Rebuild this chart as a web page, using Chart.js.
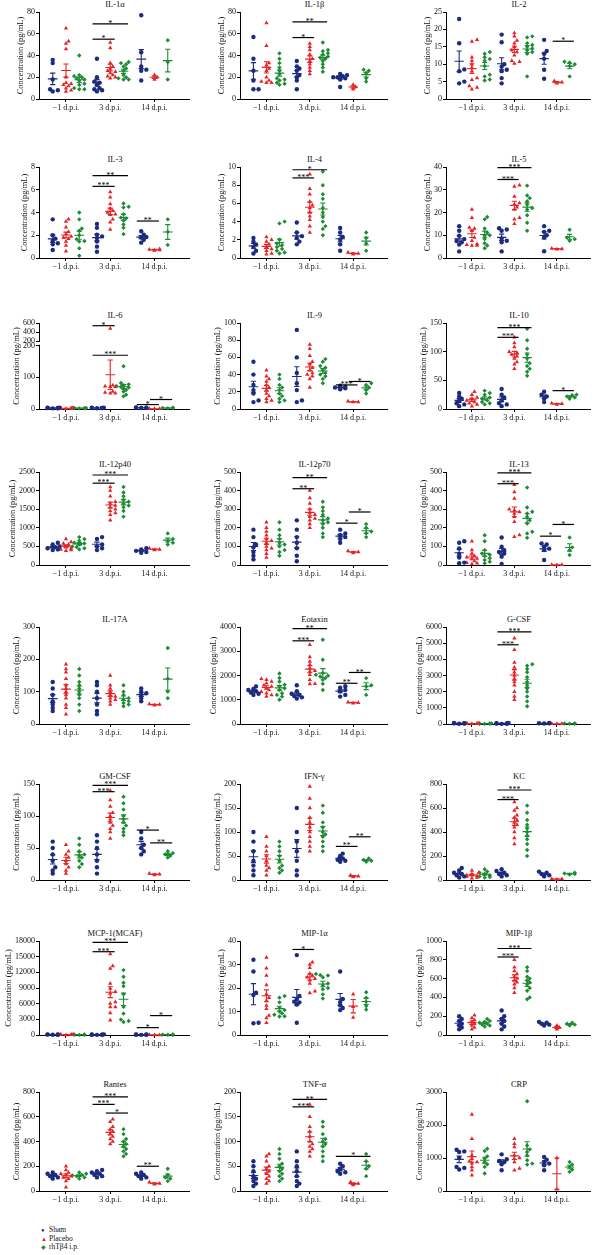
<!DOCTYPE html>
<html>
<head>
<meta charset="utf-8">
<script src="https://cdn.jsdelivr.net/npm/chart.js@4.4.0/dist/chart.umd.min.js"></script>
<style>
  body { margin: 0; background: #fff; width: 605px; height: 1255px; position: relative; overflow: hidden;
         font-family: "Liberation Serif", "Times New Roman", serif; }
  canvas { position: absolute; }
  .ttl { position: absolute; width: 120px; font-size: 8.5px; line-height: 10px; text-align: center; white-space: nowrap; color: #111; }
  .legend { position: absolute; left: 41px; top: 1226px; font-size: 7.5px; line-height: 8.6px; color: #111; }
  .legend span { display: inline-block; width: 8px; font-size: 6px; }
</style>
</head>
<body>
<script>
// ---- data ----
const panelTitles = ['IL-1α', 'IL-1β', 'IL-2', 'IL-3', 'IL-4', 'IL-5', 'IL-6', 'IL-9', 'IL-10',
  'IL-12p40', 'IL-12p70', 'IL-13', 'IL-17A', 'Eotaxin', 'G-CSF', 'GM-CSF', 'IFN-γ', 'KC',
  'MCP-1(MCAF)', 'MIP-1α', 'MIP-1β', 'Rantes', 'TNF-α', 'CRP'];
const yMax = [80, 80, 25, 8, 10, 40, 600, 100, 150, 2500, 500, 500, 300, 4000, 6000, 150, 200, 800, 18000, 40, 1000, 800, 200, 3000];
const yStep = [20, 20, 5, 2, 2, 10, 200, 20, 50, 500, 100, 100, 100, 1000, 1000, 50, 50, 200, 3000, 10, 200, 200, 50, 1000];
const groupLabels = ['\u22121 d.p.i.', '3 d.p.i.', '14 d.p.i.'];
const seriesNames = ['Sham', 'Placebo', 'rhTβ4 i.p.'];

// values per panel: [-1 d.p.i., 3 d.p.i., 14 d.p.i.]
const shamValues = [
  [[36,33,18,9,8,7],[37,20,16,15,13,10,9,8,7],[77,43,30,27,26,17]],
  [[57,37,26,17,9,9],[35,30,28,26,22,20,17,9],[23,22,21,20,20,19,18,11]],
  [[23,16,8.5,8,5,4.5],[18.5,16.3,10,9.3,8.4,8,6,4.5],[17,13.8,13,11.6,8.4,5.8]],
  [[3.4,2.0,1.7,1.5,1.3,1.2,0.7],[3.0,2.65,2.05,1.9,1.75,1.45,1.0,0.55],[2.35,2.05,1.85,1.8,1.6,1.35]],
  [[2.2,1.8,1.5,1.2,0.8,0.5],[3.9,2.8,2.4,2.2,1.8,1.5],[3.3,2.8,2.3,2,1.5,0.8]],
  [[14,12,9.8,8.3,7.5,6.9,5.9,2.9],[13.1,12.5,12,8.6,7.6,6.9,2.9],[14,12,11.5,10,9,3]],
  [[4,3,2.5,2,3,4],[4,3,3,2.5,3,4],[5,4,3,3,4]],
  [[55,40,28,22,18,10,8],[92,60,42,30,22,10,8],[27,26,25,24,23]],
  [[28,22,18,14,10,8,5],[35,25,20,15,10,8,5],[30,25,22,18,12]],
  [[600,550,500,480,450,420,400],[750,700,550,500,450,400],[450,420,380,350,330]],
  [[190,150,110,95,70,50,30],[240,190,150,120,90,50,20],[190,170,160,150,140,120]],
  [[128,120,89,60,40,13,10],[148,98,80,70,62,45,5],[116,110,98,88,80,27]],
  [[130,110,90,70,60,50,40],[130,120,100,80,60,40,30],[110,100,95,90,80,70]],
  [[1550,1450,1400,1350,1300,1250,1200],[1600,1350,1250,1200,1150,1100,1050],[1560,1500,1400,1350,1200,1130]],
  [[60,50,40,30,20],[60,50,40,30,20,10],[60,50,40,30]],
  [[60,50,40,30,20,15,10],[70,60,50,40,30,20,10],[75,65,55,50,45,40]],
  [[100,80,60,40,30,20,10],[150,100,80,60,40,20,10],[55,50,45,42,40,38]],
  [[100,80,60,50,40,30,20],[90,75,60,50,40,30],[70,60,50,40,30]],
  [[120,100,80,60,40],[120,100,80,60,40,30],[110,90,70,50,30]],
  [[32,27,18,17,5.2,5],[34,16.6,15.3,14.2,13.9,13,5.2],[27,15.3,14,12.6,11.5,10.6]],
  [[200,170,150,120,100,80,60],[260,200,170,150,120,90,60],[140,130,120,110,100]],
  [[150,140,130,120,110,100],[170,160,150,140,130,120,110],[150,140,130,120,110,100]],
  [[60,50,40,30,25,20,15,10],[80,60,50,40,30,20,15,10],[55,50,45,40,38,35]],
  [[1250,1200,1180,1000,730,700,650],[1110,960,910,880,810,630],[1030,950,880,830,780,630]]
];
const placeboValues = [
  [[65,53,51,46,20,15,14,13,12,10,8,7],[52,47,33,30,28,26,25,24,22,21,20,19],[22,20,18]],
  [[70,49,33,31,28,26,20,17,16,15,15],[51,48,45,41,37,35,32,29,26,23],[13,11,9]],
  [[17,16.5,12,11,10,9,8,6,5.5,3.7,3.3,2.8],[19,18,16.8,16,15,14,13.5,12.6,11,10.7,10.2],[5.2,4.8,4.5]],
  [[3.4,3.2,2.7,2.3,2.1,1.9,1.8,1.7,1.45,1.1,0.6],[5.8,5.35,4.75,4.35,4.15,4.0,3.85,3.8,3.4,3.15,2.5],[0.8,0.75,0.7,0.65]],
  [[2.3,2,1.8,1.5,1.2,1,0.8,0.5,0.4],[9.2,7.6,7,6.2,5.8,5.5,5,4.6,4.2,3.5,2.8],[0.6,0.5,0.4]],
  [[21.3,17.7,13.4,13,12,9,7.6,6.2,5.8,5.5,5.5],[32,31.4,27,24.2,23.5,22.3,21.3,17.7,17,15.1],[4.2,4,3.8]],
  [[2,3,1.5,2.5,2,3,1],[480,72,70,55,52,50,50,75,70],[1,1,1]],
  [[45,38,35,32,28,25,22,18,15,12,10,8],[75,70,62,55,52,48,45,42,40,38,35,25],[9,8,8]],
  [[30,25,20,18,15,12,10,8,5],[125,115,108,100,98,95,92,88,82,78,70],[10,9,8]],
  [[700,620,580,550,500,480,450,420,400,380],[2100,2000,1850,1700,1650,1600,1550,1500,1450,1400,1350,1200],[450,420,400]],
  [[230,200,180,160,140,130,120,100,90,80,60,40],[400,360,330,300,280,270,260,250,240,220,200],[75,70,65]],
  [[128,80,62,48,41,35,32,21,12,9,5],[432,393,357,300,295,285,277,259,232,161,152],[2,1,0]],
  [[185,170,160,140,120,110,100,90,80,60,50,30],[150,120,110,100,90,85,80,75,70,60],[62,60,58]],
  [[1870,1820,1750,1680,1600,1545,1480,1400,1330,1270,1200,1130],[3270,2760,2580,2440,2300,2200,2165,2030,1820,1660,1650],[900,880,860]],
  [[50,40,30,20,10,10],[5300,4600,3800,3500,3200,3000,2800,2600,2400,2000,1700,1500],[20,15,10]],
  [[55,45,40,35,30,25,20,15,10],[140,125,115,105,100,95,90,85,80,75,65],[10,9,8]],
  [[90,70,60,50,40,30,25,20,10],[195,170,150,130,120,110,100,90,80,70,60],[10,8,6]],
  [[80,60,50,40,35,30,20,15],[650,600,580,540,520,500,480,460,440,400,350,300],[10,8,5]],
  [[100,80,60,40,30,20],[15500,13200,12750,9870,8900,8260,7940,6340,6020,5380,5380,4230,2820],[30,20,10]],
  [[33,28.4,25.3,21.3,17.3,15.9,14.6,12.6,11.2,8.3,7.2,5.2],[31,30,28.6,26.2,25.3,24.6,23.9,23.3,21.9,18.6,17.9],[17.3,12,7.5]],
  [[210,180,160,140,120,100,80,60],[800,720,680,650,620,600,580,560,540,500,450],[100,80,60]],
  [[200,170,150,140,130,120,110,100,80,30],[580,560,520,500,480,460,440,420,400,380],[70,60,55]],
  [[75,70,60,50,45,40,35,30,25,20,15],[175,150,130,120,110,100,95,90,85,80,70],[18,15,12]],
  [[2320,1580,1080,980,900,880,830,730,630,480],[1580,1430,1330,1080,1000,980,880,680,630],[1000,50]]
];
const rhtValues = [
  [[40,22,21,20,19,18,17,14,13,10,9,9],[34,33,32,30,28,26,22,20,19,18,18],[54,34,18]],
  [[42,37,33,29,26,23,19,17,15,13,14,18],[52,45,44,42,41,39,38,37,35,32,29,25],[27,26,24,19,16]],
  [[13.5,13,12,11.5,11,9.5,7,6.5,5.6,5.3],[18,17.7,16,15.5,15,14.5,14,13.5,13,6.5],[10.7,10.5,10,9.5,6.5]],
  [[4.0,3.4,2.6,2.4,2.0,1.65,1.5,1.45,0.85,0.2],[4.8,4.5,4.45,3.85,3.55,3.5,3.3,2.95,2.65,2.1],[3.4,2.3,1.15]],
  [[4,3.8,2,1.6,1.4,1.2,1,0.8,0.6,0.5],[9.5,8,7,6.5,5.5,5,4.5,4,3.5,2.5,3.2],[2.8,2.2,1.6,0.8]],
  [[18,17,13,11.2,10,9.8,8.3,6.5,5.5,4.3],[31.8,27.5,26.3,25,23.5,22,21.3,18.8,15.5,12],[12.4,9,8.3,7.6]],
  [[3,2.5,2,3.5,2,3,2.5],[135,82,78,75,72,70,68,65,60,55,45,40],[4,3,3,2]],
  [[40,35,28,25,22,18,15,12,10,8],[58,55,50,48,45,42,40,38,35,30],[30,28,25,22,18]],
  [[32,28,25,20,18,15,12,10,8],[140,120,105,95,88,80,75,70,65,58],[25,24,22,20,18]],
  [[750,700,650,600,580,550,500,480,450,420],[2100,1950,1850,1750,1700,1650,1600,1550,1450,1300],[850,700,650,600,550]],
  [[230,190,160,140,120,110,100,80,70,50],[340,310,290,270,250,240,230,220,200,170,150],[220,200,180,170,150]],
  [[160,128,80,62,55,48,36,27,18,9],[416,309,286,277,259,240,223,179,170,146],[148,95,80,54]],
  [[170,150,130,120,110,100,90,80,60,40],[120,100,90,80,75,70,65,60,55],[235,140,100,80]],
  [[2080,1900,1750,1620,1550,1475,1400,1270,1200,1130,1000],[3475,2650,2100,2030,1990,1960,1900,1820,1655,1400],[1890,1600,1545,1200]],
  [[40,30,30,20,20,10],[3700,3600,3400,3200,2900,2600,2400,2200,2000,1700,1400,1100],[40,30,20,20]],
  [[65,55,45,40,38,35,30,25,20],[130,120,110,100,95,90,85,80,75,70],[45,42,40,38,35]],
  [[80,70,60,50,40,30,25,20,15],[155,140,120,110,100,95,90,80,70,60],[45,42,40,38]],
  [[90,70,60,50,40,30,25,20],[620,560,500,460,430,400,370,340,300,250,200],[60,55,50,45]],
  [[110,90,70,50,30],[12430,11150,10000,9350,7800,5380,4100,2950,2690,2500],[100,80,60,40]],
  [[16.6,15.9,13.9,11.5,10.6,10,9.2,8.6,8,7.9],[26,25.5,25.3,24.6,21.9,21.3,20,19.5,17.3,15.5],[18.2,15.9,14.2,12.3,10.8]],
  [[170,150,140,130,120,110,100,90],[720,680,620,600,580,560,540,500,470,400,380],[130,120,110,100]],
  [[150,140,130,125,120,110,100],[500,460,420,400,380,360,340,320,300,280],[180,130,110,100,80]],
  [[85,75,65,55,50,45,40,35,30,25,20],[140,130,115,105,100,95,90,80,70,60],[75,60,50,45,30]],
  [[1280,1210,1050,980,880,810,730,530],[2720,1380,1260,1180,1080,930,830,800],[880,800,730,650,580]]
];

// significance bars: [group, from series, to series, y value, label]
const significance = [
  [[1,0,1,55,'*'],[1,0,2,69,'*']],
  [[1,0,1,56.5,'*'],[1,0,2,71,'**']],
  [[2,1,2,16.6,'*']],
  [[1,0,1,6.3,'***'],[1,0,2,7.25,'**'],[2,0,1,3.25,'**']],
  [[1,0,1,8.8,'***'],[1,0,2,9.7,'*']],
  [[1,0,1,34.5,'***'],[1,0,2,39.7,'***']],
  [[1,0,1,540,'*'],[1,0,2,170,'***'],[2,0,1,14,'*'],[2,1,2,30,'*']],
  [[2,0,1,28,'***'],[2,1,2,32,'*']],
  [[1,0,1,125,'***'],[1,0,2,142,'***'],[2,1,2,32,'*']],
  [[1,0,1,2200,'***'],[1,0,2,2420,'***']],
  [[1,0,1,410,'**'],[1,0,2,470,'**'],[2,0,1,225,'*'],[2,1,2,285,'*']],
  [[1,0,1,437,'***'],[1,0,2,495,'***'],[2,0,1,155,'*'],[2,1,2,218,'*']],
  [],
  [[1,0,1,3430,'***'],[1,0,2,3930,'**'],[2,0,1,1680,'**'],[2,1,2,2125,'**']],
  [[1,0,1,4900,'***'],[1,0,2,5700,'***']],
  [[1,0,1,138,'***'],[1,0,2,148,'***'],[2,0,1,78,'*'],[2,1,2,58,'**']],
  [[2,0,1,70,'**'],[2,1,2,90,'**']],
  [[1,0,1,670,'***'],[1,0,2,750,'***']],
  [[1,0,1,15950,'***'],[1,0,2,17745,'***'],[2,0,1,1410,'*'],[2,1,2,3715,'*']],
  [[1,0,1,36.4,'*']],
  [[1,0,1,830,'***'],[1,0,2,920,'***']],
  [[1,0,1,700,'***'],[1,0,2,760,'***'],[1,1,2,630,'*'],[2,0,1,200,'**']],
  [[1,0,1,170,'***'],[1,0,2,185,'**'],[2,0,2,70,'*']],
  []
];

// ---- layout / style ----
const COLORS = ['#1c2b7f', '#e52428', '#1d8b34'];
const STYLES = ['circle', 'triangle', 'rectRot'];
const colLeft = [0, 200, 400];
const axisX = [39, 240, 446];
const rightX = [191, 389, 592];
const plotTop = [12, 167, 323, 472, 627, 784, 941, 1092];
const zeroY = [99, 258, 409, 565, 724, 880, 1035, 1191];
const X_MIN = 0.39, X_MAX = 3.78, SUB_OFF = 0.3;
const FONT = '"Liberation Serif", "Times New Roman", serif';
const IL6 = 6, IL6_LOW_MAX = 215;

function stats(v) {
  const n = v.length;
  const m = v.reduce((a, b) => a + b, 0) / n;
  const sd = Math.sqrt(v.reduce((a, b) => a + (b - m) * (b - m), 0) / (n - 1));
  return { mean: m, sem: sd / Math.sqrt(n) };
}

// beeswarm-like horizontal spread so points don't sit on top of each other
function swarmOffsets(vals, scaleMax, plotH, pxPerUnit) {
  const order = vals.map((v, k) => k).sort((a, b) => vals[a] - vals[b]);
  const steps = [0, 2.6, -2.6, 5.2, -5.2, 7, -7];
  const placed = [];
  const out = new Array(vals.length).fill(0);
  order.forEach((k, n) => {
    const py = Math.min(vals[k], scaleMax) / scaleMax * plotH;
    let pick = steps[n % steps.length];
    for (const st of steps) {
      if (placed.every(p => Math.hypot(p.x - st, p.y - py) >= 3.2)) { pick = st; break; }
    }
    placed.push({ x: pick, y: py });
    out[k] = pick / pxPerUnit;
  });
  return out;
}

function center(g, s) { return g + 1 + (s - 1) * SUB_OFF; }

function yPix(chart, v) {
  const sc = chart.scales;
  if (sc.y2 && v > 200) return sc.y2.getPixelForValue(v);
  return sc.y.getPixelForValue(v);
}

function makeOverlay(i, series) {
  return {
    id: 'overlay' + i,
    afterDatasetsDraw(chart) {
      const ctx = chart.ctx;
      const xs = chart.scales.x;
      ctx.save();
      // mean +/- SEM
      series.forEach((groups, s) => {
        groups.forEach((vals, g) => {
          const st = stats(vals);
          const c = center(g, s);
          const ym = yPix(chart, st.mean);
          const yt = yPix(chart, st.mean + st.sem);
          const yb = yPix(chart, Math.max(0, st.mean - st.sem));
          ctx.strokeStyle = COLORS[s];
          ctx.lineWidth = 1.1;
          ctx.beginPath();
          ctx.moveTo(xs.getPixelForValue(c - 0.11), ym);
          ctx.lineTo(xs.getPixelForValue(c + 0.11), ym);
          ctx.moveTo(xs.getPixelForValue(c), yt);
          ctx.lineTo(xs.getPixelForValue(c), yb);
          ctx.moveTo(xs.getPixelForValue(c - 0.06), yt);
          ctx.lineTo(xs.getPixelForValue(c + 0.06), yt);
          ctx.moveTo(xs.getPixelForValue(c - 0.06), yb);
          ctx.lineTo(xs.getPixelForValue(c + 0.06), yb);
          ctx.stroke();
        });
      });
      // significance bars
      ctx.strokeStyle = '#000';
      ctx.fillStyle = '#000';
      ctx.lineWidth = 1.2;
      ctx.font = '8px ' + FONT;
      ctx.textAlign = 'center';
      ctx.textBaseline = 'bottom';
      significance[i].forEach(([g, a, b, v, label]) => {
        const x1 = xs.getPixelForValue(center(g, a) - 0.1);
        const x2 = xs.getPixelForValue(center(g, b) + 0.1);
        const y = yPix(chart, v);
        ctx.beginPath();
        ctx.moveTo(x1, y);
        ctx.lineTo(x2, y);
        ctx.stroke();
        ctx.fillText(label, (x1 + x2) / 2, y + 4);
      });
      ctx.restore();
    },
    afterDraw(chart) {
      const ctx = chart.ctx;
      const area = chart.chartArea;
      ctx.save();
      // y axis title next to the tick labels
      ctx.font = '8px ' + FONT;
      let widest = 0;
      ['y', 'y2'].forEach(id => {
        const sc = chart.scales[id];
        if (!sc) return;
        sc.ticks.forEach(t => { widest = Math.max(widest, ctx.measureText(String(t.value)).width); });
      });
      const tx = area.left - 4 - widest - 6.5;
      ctx.translate(tx, (area.top + area.bottom) / 2);
      ctx.rotate(-Math.PI / 2);
      ctx.font = '8.4px ' + FONT;
      ctx.fillStyle = '#111';
      ctx.textAlign = 'center';
      ctx.textBaseline = 'middle';
      ctx.fillText('Concentration (pg/mL)', 0, 0);
      ctx.restore();
      // broken axis gap for IL-6
      if (chart.scales.y2) {
        const top = chart.scales.y2.bottom + 1;
        const bot = chart.scales.y.getPixelForValue(200) - 1;
        ctx.save();
        ctx.fillStyle = '#fff';
        ctx.fillRect(area.left - 2, top, 3, bot - top);
        ctx.restore();
      }
    }
  };
}

function tickList(max, step) {
  const out = [];
  for (let v = 0; v <= max + 1e-9; v += step) out.push({ value: v });
  return out;
}

function buildPanel(i) {
  const row = Math.floor(i / 3), col = i % 3;
  const left = colLeft[col];
  const top = plotTop[row] - 8;
  const width = rightX[col] - left + 2;
  const height = zeroY[row] - plotTop[row] + 8 + 20;
  const plotH = zeroY[row] - plotTop[row];
  const pxPerUnit = (rightX[col] - axisX[col]) / (X_MAX - X_MIN);
  const yAxisW = axisX[col] - left;

  const title = document.createElement('div');
  title.className = 'ttl';
  title.textContent = panelTitles[i];
  title.style.left = ((axisX[col] + rightX[col]) / 2 - 60) + 'px';
  title.style.top = (plotTop[row] - 13) + 'px';
  document.body.appendChild(title);

  const canvas = document.createElement('canvas');
  canvas.width = width; canvas.height = height;
  canvas.style.left = left + 'px'; canvas.style.top = top + 'px';
  canvas.style.width = width + 'px'; canvas.style.height = height + 'px';
  document.body.appendChild(canvas);

  const series = [shamValues[i], placeboValues[i], rhtValues[i]];
  const scaleMax = i === IL6 ? IL6_LOW_MAX : yMax[i];
  const datasets = [];
  const upper = [[], [], []];
  series.forEach((groups, s) => {
    const pts = [];
    groups.forEach((vals, g) => {
      const offs = swarmOffsets(vals, scaleMax, plotH, pxPerUnit);
      vals.forEach((v, k) => {
        const p = { x: center(g, s) + offs[k], y: v };
        if (i === IL6 && v > 200) upper[s].push(p); else pts.push(p);
      });
    });
    datasets.push({
      label: seriesNames[s], data: pts, pointStyle: STYLES[s],
      pointRadius: s === 1 ? 2.5 : 2.2, backgroundColor: COLORS[s], borderColor: COLORS[s],
      borderWidth: 0, clip: false
    });
  });
  if (i === IL6) {
    upper.forEach((pts, s) => {
      if (!pts.length) return;
      datasets.push({
        label: seriesNames[s], data: pts, yAxisID: 'y2', pointStyle: STYLES[s],
        pointRadius: 2.5, backgroundColor: COLORS[s], borderWidth: 0, clip: false
      });
    });
  }

  const tickFont = { family: FONT, size: 8 };
  const yCommon = {
    type: 'linear', position: 'left',
    ticks: { font: tickFont, color: '#111', padding: 1, autoSkip: false, callback: v => String(v) },
    grid: { drawOnChartArea: false, tickLength: 3, color: '#000', lineWidth: 1 },
    border: { color: '#000', width: 1 },
    afterFit: sc => { sc.width = yAxisW; }
  };
  const scales = {
    x: {
      type: 'linear', min: X_MIN, max: X_MAX,
      afterBuildTicks: sc => { sc.ticks = [1, 2, 3].map(v => ({ value: v })); },
      ticks: { font: tickFont, color: '#111', padding: 1, maxRotation: 0, autoSkip: false,
               callback: (v, idx) => groupLabels[idx] },
      grid: { drawOnChartArea: false, tickLength: 3, color: '#000', lineWidth: 1 },
      border: { color: '#000', width: 1 },
      afterFit: sc => { sc.height = 20; }
    }
  };
  if (i === IL6) {
    scales.y = Object.assign({}, yCommon, {
      min: 0, max: IL6_LOW_MAX, stack: 'il6', stackWeight: 68,
      afterBuildTicks: sc => { sc.ticks = tickList(200, 100); }
    });
    scales.y2 = Object.assign({}, yCommon, {
      min: 200, max: 600, stack: 'il6', stackWeight: 18,
      afterBuildTicks: sc => { sc.ticks = [200, 400, 600].map(v => ({ value: v })); }
    });
  } else {
    scales.y = Object.assign({}, yCommon, {
      min: 0, max: yMax[i],
      afterBuildTicks: sc => { sc.ticks = tickList(yMax[i], yStep[i]); }
    });
  }

  new Chart(canvas, {
    type: 'scatter',
    data: { datasets },
    options: {
      responsive: false, animation: false, devicePixelRatio: 1,
      layout: { padding: { top: 8, right: 2, left: 0, bottom: 0 } },
      plugins: { legend: { display: false }, tooltip: { enabled: false }, title: { display: false } },
      scales
    },
    plugins: [makeOverlay(i, series)]
  });
}

for (let i = 0; i < panelTitles.length; i++) buildPanel(i);

// legend
const legend = document.createElement('div');
legend.className = 'legend';
legend.innerHTML = seriesNames.map((n, s) =>
  '<div><span style="color:' + COLORS[s] + '">' + ['\u25CF', '\u25B2', '\u25C6'][s] + '</span>' + n + '</div>').join('');
document.body.appendChild(legend);
</script>
</body>
</html>
